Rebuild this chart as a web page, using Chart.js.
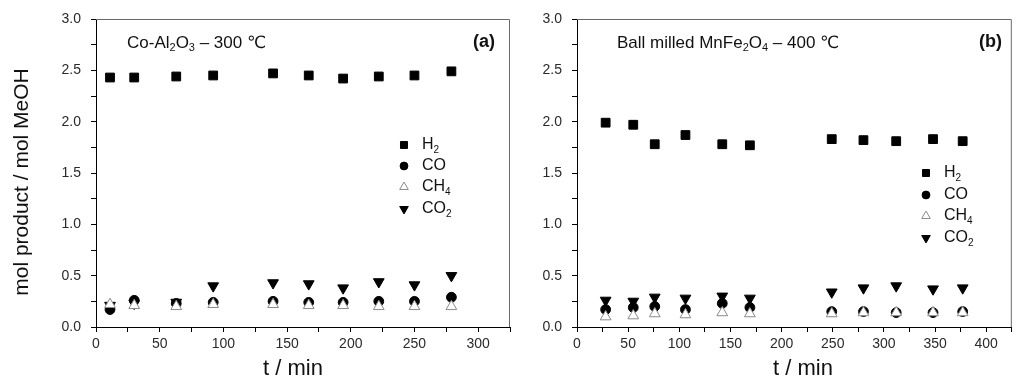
<!DOCTYPE html>
<html>
<head>
<meta charset="utf-8">
<script src="https://cdn.jsdelivr.net/npm/chart.js@4"></script>
<style>
  body { margin: 0; background: #fff; }
  canvas { position: absolute; top: 0; }
</style>
</head>
<body>
<canvas id="chartA" width="520" height="383" style="left:0"></canvas>
<canvas id="chartB" width="499" height="383" style="left:520px"></canvas>
<script>
// panel (a): Co-Al2O3, 300 C
const timeA = [11, 30, 63, 92, 139, 167, 194, 222, 250, 279];
const h2A  = [2.43, 2.43, 2.44, 2.45, 2.47, 2.45, 2.42, 2.44, 2.45, 2.49];
const coA  = [0.17, 0.26, 0.23, 0.24, 0.25, 0.24, 0.24, 0.25, 0.25, 0.29];
const ch4A = [0.22, 0.21, 0.20, 0.22, 0.22, 0.21, 0.21, 0.20, 0.20, 0.20];
const co2A = [0.21, 0.23, 0.24, 0.40, 0.43, 0.42, 0.38, 0.44, 0.41, 0.50];

// panel (b): ball milled MnFe2O4, 400 C
const timeB = [28, 55, 76, 106, 142, 169, 249, 280, 312, 348, 377];
const h2B  = [1.99, 1.97, 1.78, 1.87, 1.78, 1.77, 1.83, 1.82, 1.81, 1.83, 1.81];
const coB  = [0.17, 0.19, 0.20, 0.17, 0.23, 0.19, 0.15, 0.15, 0.14, 0.14, 0.15];
const ch4B = [0.10, 0.11, 0.13, 0.12, 0.14, 0.13, 0.13, 0.14, 0.14, 0.14, 0.14];
const co2B = [0.26, 0.25, 0.29, 0.28, 0.30, 0.28, 0.34, 0.38, 0.40, 0.37, 0.38];

const yTicks = [0, 0.5, 1.0, 1.5, 2.0, 2.5, 3.0];
const legendNames = [[['H', 0], ['2', 1]], [['CO', 0]], [['CH', 0], ['4', 1]], [['CO', 0], ['2', 1]]];

const FONT = '"Liberation Sans", Arial, "DejaVu Sans", sans-serif';

// marker styles, same order as legendNames
const markers = [
  { pointStyle: 'rect', radius: 6.2, rotation: 0, fill: '#000', stroke: '#000' },
  { pointStyle: 'circle', radius: 4.9, rotation: 0, fill: '#000', stroke: '#000' },
  { pointStyle: 'triangle', radius: 6.2, rotation: 0, fill: '#fff', stroke: '#8a8a8a' },
  { pointStyle: 'triangle', radius: 6.2, rotation: 180, fill: '#000', stroke: '#000' }
];

function richWidth(ctx, parts, size, weight) {
  let w = 0;
  parts.forEach(p => {
    ctx.font = `${weight} ${p[1] ? Math.round(size * 0.65) : size}px ${FONT}`;
    w += ctx.measureText(p[0]).width;
  });
  return w;
}

function drawRich(ctx, parts, x, y, size, weight, align) {
  weight = weight || 'normal';
  const w = richWidth(ctx, parts, size, weight);
  if (align === 'right') x -= w;
  if (align === 'center') x -= w / 2;
  ctx.textBaseline = 'middle';
  ctx.textAlign = 'left';
  ctx.fillStyle = '#111';
  parts.forEach(p => {
    const s = p[1] ? Math.round(size * 0.65) : size;
    ctx.font = `${weight} ${s}px ${FONT}`;
    ctx.fillText(p[0], x, p[1] ? y + size * 0.3 : y);
    x += ctx.measureText(p[0]).width;
  });
}

function makeDatasets(times, series) {
  return series.map((vals, i) => ({
    label: legendNames[i].map(p => p[0]).join(''),
    data: times.map((t, j) => ({ x: t, y: vals[j] })),
    pointStyle: markers[i].pointStyle,
    pointRadius: markers[i].radius,
    rotation: markers[i].rotation,
    backgroundColor: markers[i].fill,
    borderColor: markers[i].stroke,
    borderWidth: 1,
    showLine: false,
    order: [3, 1, 0, 2][i]
  }));
}

function panelPlugin(cfg) {
  return {
    id: 'panelText',
    afterDraw(chart) {
      const ctx = chart.ctx;
      const a = chart.chartArea;
      ctx.save();
      // top and right frame
      ctx.strokeStyle = '#6a6a6a';
      ctx.lineWidth = 1;
      ctx.beginPath();
      ctx.moveTo(a.left, a.top + 0.5);
      ctx.lineTo(a.right - 0.5, a.top + 0.5);
      ctx.lineTo(a.right - 0.5, a.bottom);
      ctx.stroke();

      drawRich(ctx, cfg.title, cfg.titleX, 43, 17);
      drawRich(ctx, [[cfg.tag, 0]], cfg.tagX, 42, 18, 'bold', 'right');
      drawRich(ctx, [['t / min', 0]], cfg.xTitleX, 369, 22, 'normal', 'center');

      if (cfg.yTitle) {
        ctx.save();
        ctx.translate(22, 182);
        ctx.rotate(-Math.PI / 2);
        drawRich(ctx, [[cfg.yTitle, 0]], 0, 0, 21, 'normal', 'center');
        ctx.restore();
      }

      // legend
      legendNames.forEach((name, i) => {
        const m = markers[i];
        const y = cfg.legendY[i];
        ctx.fillStyle = m.fill;
        ctx.strokeStyle = m.stroke;
        ctx.lineWidth = 1;
        Chart.helpers.drawPoint(ctx, { pointStyle: m.pointStyle, radius: m.radius * 0.8, rotation: m.rotation, borderWidth: 1 }, cfg.legendX, y);
        drawRich(ctx, name, cfg.legendX + 18, y, 16);
      });
      ctx.restore();
    }
  };
}

function makeChart(id, times, series, xMax, yWidth, padRight, cfg) {
  const gridOpts = { display: true, drawOnChartArea: false, drawTicks: true, tickLength: 5, color: '#000' };
  return new Chart(document.getElementById(id), {
    type: 'scatter',
    data: { datasets: makeDatasets(times, series) },
    options: {
      responsive: false,
      animation: false,
      layout: { padding: { left: 0, top: 19, right: padRight, bottom: 0 } },
      plugins: { legend: { display: false }, tooltip: { enabled: false } },
      scales: {
        x: {
          type: 'linear', min: 0, max: xMax,
          grid: gridOpts,
          border: { display: true, color: '#000', width: 1 },
          ticks: {
            stepSize: 25, autoSkip: false, maxRotation: 0, padding: 4,
            color: '#2a2a2a', font: { family: FONT, size: 14 },
            callback: v => (v % 50 === 0 ? String(v) : '')
          },
          afterFit: s => { s.height = 56; }
        },
        y: {
          type: 'linear', min: 0, max: 3,
          grid: gridOpts,
          border: { display: true, color: '#000', width: 1 },
          ticks: {
            stepSize: 0.25, autoSkip: false, padding: 10,
            color: '#2a2a2a', font: { family: FONT, size: 14 },
            callback: v => (yTicks.some(t => Math.abs(t - v) < 1e-6) ? v.toFixed(1) : '')
          },
          afterFit: s => { s.width = yWidth; }
        }
      }
    },
    plugins: [panelPlugin(cfg)]
  });
}

makeChart('chartA', timeA, [h2A, coA, ch4A, co2A], 325, 96, 10, {
  title: [['Co-Al', 0], ['2', 1], ['O', 0], ['3', 1], [' \u2013 300 \u2103', 0]],
  titleX: 127, tag: '(a)', tagX: 495, xTitleX: 293,
  yTitle: 'mol product / mol MeOH',
  legendX: 404, legendY: [145, 166, 187, 209]
});

makeChart('chartB', timeB, [h2B, coB, ch4B, co2B], 425, 57, 1, {
  title: [['Ball milled MnFe', 0], ['2', 1], ['O', 0], ['4', 1], [' \u2013 400 \u2103', 0]],
  titleX: 97, tag: '(b)', tagX: 482, xTitleX: 283,
  legendX: 406, legendY: [173, 195, 216, 238]
});
</script>
</body>
</html>
